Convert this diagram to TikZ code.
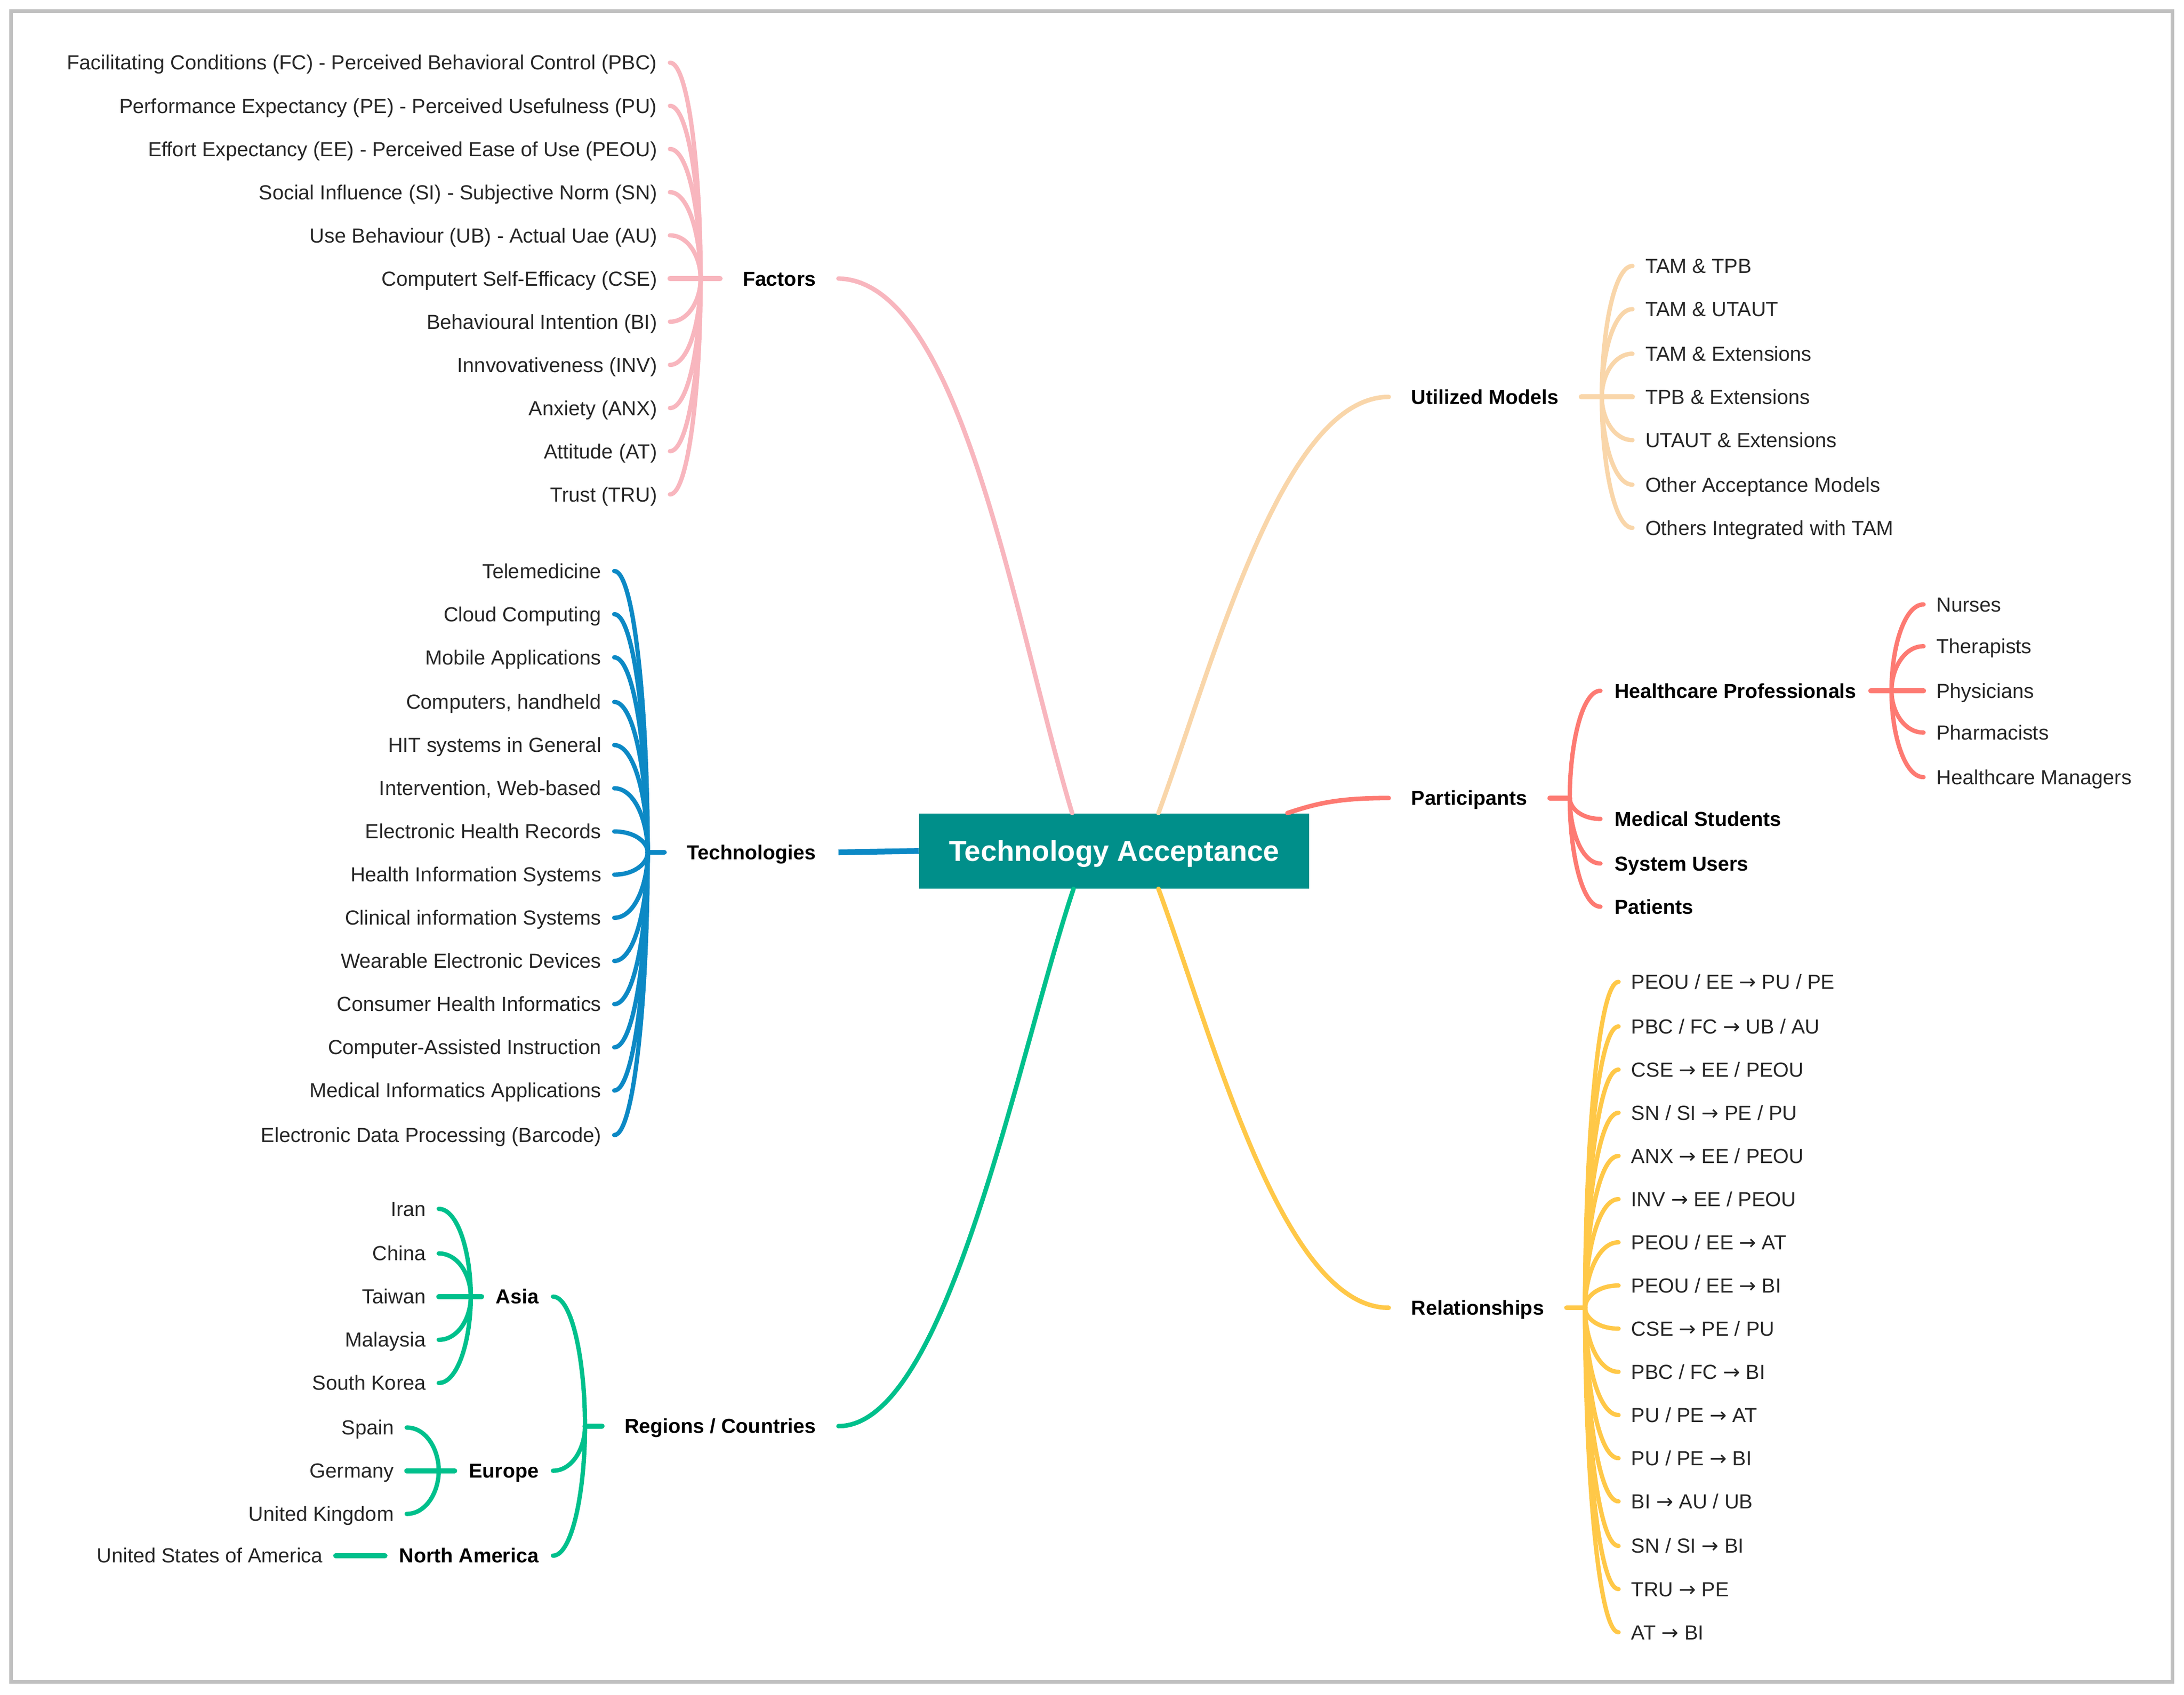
\documentclass[tikz,border=0pt]{standalone}
\usepackage{fontspec}
\setmainfont{Liberation Sans}
\newfontfamily\arrowfont{DejaVu Sans}
\usetikzlibrary{calc}
\definecolor{cFac}{RGB}{248,182,190}
\definecolor{cTec}{RGB}{12,137,197}
\definecolor{cReg}{RGB}{0,192,140}
\definecolor{cUti}{RGB}{249,214,170}
\definecolor{cPar}{RGB}{253,122,114}
\definecolor{cRel}{RGB}{255,200,72}
\definecolor{cCen}{RGB}{0,143,138}
\definecolor{cBor}{RGB}{192,192,192}
\definecolor{cTxt}{RGB}{38,38,38}
\newcommand{\myarr}{{\arrowfont →}}
% bracket curve from junction #1 to anchor #2
\newcommand{\brc}[2]{.. controls ($(#1)!0.5!(#1|-#2)$) and ($(#2)!0.6!(#1|-#2)$) .. (#2)}
\begin{document}
\begin{tikzpicture}[x=0.0271cm, y=-0.0271cm,
  leaf/.style={inner xsep=0.244cm, inner ysep=0pt, text height=8pt, text depth=0pt,
    font=\fontsize{11.3}{13}\selectfont, text=cTxt},
  sub/.style={inner xsep=0.271cm, inner ysep=0pt, text height=8pt, text depth=0pt,
    font=\fontsize{11.2}{13}\selectfont\bfseries, text=black},
  mainlbl/.style={inner xsep=0.434cm, inner ysep=0pt, text height=8pt, text depth=0pt,
    font=\fontsize{11.2}{13}\selectfont\bfseries, text=black},
  hub/.style={fill=cCen, text=white, font=\fontsize{16}{19}\selectfont\bfseries,
    minimum width=7.59cm, minimum height=1.46cm, inner sep=0pt, text height=11.5pt, text depth=0pt},
  br/.style={line width=2.4pt, line cap=round},
  stub/.style={line width=2.8pt, line cap=round},
  mainline/.style={line width=2.5pt, line cap=round}]
\useasboundingbox (0,0) rectangle (1568,1217);
\draw[cBor, line width=2pt] (8,8) rectangle (1559.5,1207.5);

% centre
\node[hub] (C) at (800,611) {Technology Acceptance};

% ---------------- Factors ----------------
\node[mainlbl, anchor=east] (F) at (602,200) {Factors};
\coordinate (jF) at (503,200);
\node[leaf, anchor=east] (f1) at (481,45) {Facilitating Conditions (FC) - Perceived Behavioral Control (PBC)};
\node[leaf, anchor=east] (f2) at (481,76) {Performance Expectancy (PE) - Perceived Usefulness (PU)};
\node[leaf, anchor=east] (f3) at (481,107) {Effort Expectancy (EE) - Perceived Ease of Use (PEOU)};
\node[leaf, anchor=east] (f4) at (481,138) {Social Influence (SI) - Subjective Norm (SN)};
\node[leaf, anchor=east] (f5) at (481,169) {Use Behaviour (UB) - Actual Uae (AU)};
\node[leaf, anchor=east] (f6) at (481,200) {Computert Self-Efficacy (CSE)};
\node[leaf, anchor=east] (f7) at (481,231) {Behavioural Intention (BI)};
\node[leaf, anchor=east] (f8) at (481,262) {Innvovativeness (INV)};
\node[leaf, anchor=east] (f9) at (481,293) {Anxiety (ANX)};
\node[leaf, anchor=east] (f10) at (481,324) {Attitude (AT)};
\node[leaf, anchor=east] (f11) at (481,355) {Trust (TRU)};
\foreach \i in {1,...,11}
  \draw[br, cFac] (jF) \brc{jF}{f\i.east};
\draw[stub, cFac] (F.west) -- (f6.east);
\draw[mainline, cFac] (F.east) .. controls (690,202) and (728,445) .. ($(C.north west)+(110,0)$);

% ---------------- Technologies ----------------
\node[mainlbl, anchor=east] (T) at (602,612) {Technologies};
\coordinate (jT) at (465,612);
\node[leaf, anchor=east] (t1) at (441,410) {Telemedicine};
\node[leaf, anchor=east] (t2) at (441,441) {Cloud Computing};
\node[leaf, anchor=east] (t3) at (441,472) {Mobile Applications};
\node[leaf, anchor=east] (t4) at (441,504) {Computers, handheld};
\node[leaf, anchor=east] (t5) at (441,535) {HIT systems in General};
\node[leaf, anchor=east] (t6) at (441,566) {Intervention, Web-based};
\node[leaf, anchor=east] (t7) at (441,597) {Electronic Health Records};
\node[leaf, anchor=east] (t8) at (441,628) {Health Information Systems};
\node[leaf, anchor=east] (t9) at (441,659) {Clinical information Systems};
\node[leaf, anchor=east] (t10) at (441,690) {Wearable Electronic Devices};
\node[leaf, anchor=east] (t11) at (441,721) {Consumer Health Informatics};
\node[leaf, anchor=east] (t12) at (441,752) {Computer-Assisted Instruction};
\node[leaf, anchor=east] (t13) at (441,783) {Medical Informatics Applications};
\node[leaf, anchor=east] (t14) at (441,815) {Electronic Data Processing (Barcode)};
\foreach \i in {1,...,14}
  \draw[br, cTec] (jT) \brc{jT}{t\i.east};
\draw[stub, cTec] (T.west) -- (jT);
\draw[line width=3.2pt, cTec] (T.east) -- (C.west);

% ---------------- Regions / Countries ----------------
\node[mainlbl, anchor=east] (RC) at (602,1024) {Regions / Countries};
\coordinate (jR) at (420,1024);
\node[sub, anchor=east] (as) at (397,931) {Asia};
\node[sub, anchor=east] (eu) at (397,1056) {Europe};
\node[sub, anchor=east] (na) at (397,1117) {North America};
\foreach \n in {as,eu,na}
  \draw[br, cReg] (jR) \brc{jR}{\n.east};
\draw[stub, cReg] (RC.west) -- (jR);
\draw[mainline, cReg] (RC.east) .. controls (680,1024) and (730,760) .. ($(C.south west)+(111,0)$);

\coordinate (jA) at (338,931);
\node[leaf, anchor=east] (a1) at (315,868) {Iran};
\node[leaf, anchor=east] (a2) at (315,900) {China};
\node[leaf, anchor=east] (a3) at (315,931) {Taiwan};
\node[leaf, anchor=east] (a4) at (315,962) {Malaysia};
\node[leaf, anchor=east] (a5) at (315,993) {South Korea};
\foreach \i in {1,...,5}
  \draw[br, cReg] (jA) \brc{jA}{a\i.east};
\draw[stub, cReg] (as.west) -- (a3.east);

\coordinate (jE) at (315,1056);
\node[leaf, anchor=east] (e1) at (292,1025) {Spain};
\node[leaf, anchor=east] (e2) at (292,1056) {Germany};
\node[leaf, anchor=east] (e3) at (292,1087) {United Kingdom};
\foreach \i in {1,...,3}
  \draw[br, cReg] (jE) \brc{jE}{e\i.east};
\draw[stub, cReg] (eu.west) -- (e2.east);

\node[leaf, anchor=east] (usa) at (241,1117) {United States of America};
\draw[stub, cReg] (na.west) -- (usa.east);

% ---------------- Utilized Models ----------------
\node[mainlbl, anchor=west] (U) at (997,285) {Utilized Models};
\coordinate (jU) at (1150,285);
\node[leaf, anchor=west] (u1) at (1172,191) {TAM \& TPB};
\node[leaf, anchor=west] (u2) at (1172,222) {TAM \& UTAUT};
\node[leaf, anchor=west] (u3) at (1172,254) {TAM \& Extensions};
\node[leaf, anchor=west] (u4) at (1172,285) {TPB \& Extensions};
\node[leaf, anchor=west] (u5) at (1172,316) {UTAUT \& Extensions};
\node[leaf, anchor=west] (u6) at (1172,348) {Other Acceptance Models};
\node[leaf, anchor=west] (u7) at (1172,379) {Others Integrated with TAM};
\foreach \i in {1,...,7}
  \draw[br, cUti] (jU) \brc{jU}{u\i.west};
\draw[stub, cUti] (U.east) -- (u4.west);
\draw[mainline, cUti] (U.west) .. controls (920,285) and (870,480) .. ($(C.north west)+(172,0)$);

% ---------------- Participants ----------------
\node[mainlbl, anchor=west] (P) at (997,573) {Participants};
\coordinate (jP) at (1127,573);
\node[sub, anchor=west] (p1) at (1149,496) {Healthcare Professionals};
\node[sub, anchor=west] (p2) at (1149,588) {Medical Students};
\node[sub, anchor=west] (p3) at (1149,620) {System Users};
\node[sub, anchor=west] (p4) at (1149,651) {Patients};
\foreach \i in {1,...,4}
  \draw[br, cPar] (jP) \brc{jP}{p\i.west};
\draw[stub, cPar] (P.east) -- (jP);
\draw[mainline, cPar] (P.west) .. controls (960,573) and (945,577) .. ($(C.north east)+(-16,0)$);

\coordinate (jH) at (1358,496);
\node[leaf, anchor=west] (h1) at (1381,434) {Nurses};
\node[leaf, anchor=west] (h2) at (1381,464) {Therapists};
\node[leaf, anchor=west] (h3) at (1381,496) {Physicians};
\node[leaf, anchor=west] (h4) at (1381,526) {Pharmacists};
\node[leaf, anchor=west] (h5) at (1381,558) {Healthcare Managers};
\foreach \i in {1,...,5}
  \draw[br, cPar] (jH) \brc{jH}{h\i.west};
\draw[stub, cPar] (p1.east) -- (h3.west);

% ---------------- Relationships ----------------
\node[mainlbl, anchor=west] (R) at (997,939) {Relationships};
\coordinate (jRel) at (1138,939);
\node[leaf, anchor=west] (r1) at (1162,705) {PEOU / EE \myarr{} PU / PE};
\node[leaf, anchor=west] (r2) at (1162,737) {PBC / FC \myarr{} UB / AU};
\node[leaf, anchor=west] (r3) at (1162,768) {CSE \myarr{} EE / PEOU};
\node[leaf, anchor=west] (r4) at (1162,799) {SN / SI \myarr{} PE / PU};
\node[leaf, anchor=west] (r5) at (1162,830) {ANX \myarr{} EE / PEOU};
\node[leaf, anchor=west] (r6) at (1162,861) {INV \myarr{} EE / PEOU};
\node[leaf, anchor=west] (r7) at (1162,892) {PEOU / EE \myarr{} AT};
\node[leaf, anchor=west] (r8) at (1162,923) {PEOU / EE \myarr{} BI};
\node[leaf, anchor=west] (r9) at (1162,954) {CSE \myarr{} PE / PU};
\node[leaf, anchor=west] (r10) at (1162,985) {PBC / FC \myarr{} BI};
\node[leaf, anchor=west] (r11) at (1162,1016) {PU / PE \myarr{} AT};
\node[leaf, anchor=west] (r12) at (1162,1047) {PU / PE \myarr{} BI};
\node[leaf, anchor=west] (r13) at (1162,1078) {BI \myarr{} AU / UB};
\node[leaf, anchor=west] (r14) at (1162,1110) {SN / SI \myarr{} BI};
\node[leaf, anchor=west] (r15) at (1162,1141) {TRU \myarr{} PE};
\node[leaf, anchor=west] (r16) at (1162,1172) {AT \myarr{} BI};
\foreach \i in {1,...,16}
  \draw[br, cRel] (jRel) \brc{jRel}{r\i.west};
\draw[stub, cRel] (R.east) -- (jRel);
\draw[mainline, cRel] (R.west) .. controls (920,939) and (870,742) .. ($(C.south west)+(172,0)$);
\end{tikzpicture}
\end{document}
